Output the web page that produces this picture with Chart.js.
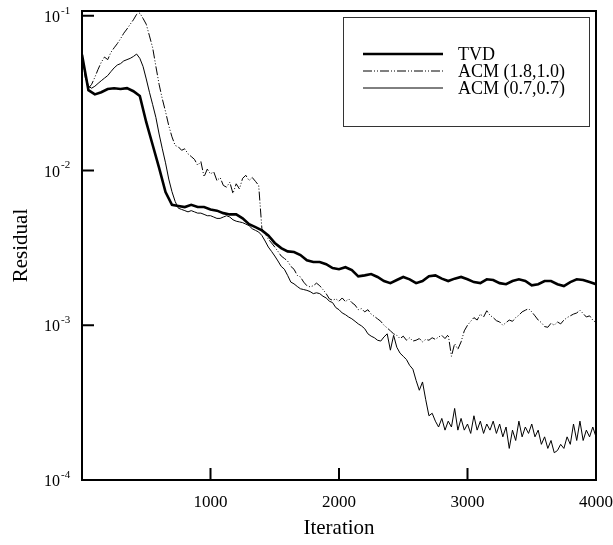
<!DOCTYPE html>
<html>
<head>
<meta charset="utf-8">
<script src="https://cdn.jsdelivr.net/npm/chart.js@4.4.0/dist/chart.umd.min.js"></script>
<style>
  html, body { margin: 0; padding: 0; background: #fff; }
  #wrap { width: 613px; height: 545px; }
</style>
</head>
<body>
<div id="wrap"><canvas id="chartResidu"></canvas></div>
<script>
// pas d'échantillonnage (itérations)
const pasTVD = 50;
const pasACM = 25;

const residuTVD = [
  0.056, 0.033, 0.031, 0.032, 0.0336, 0.034, 0.0336, 0.034, 0.0325, 0.0303,
  0.0205, 0.0146, 0.0104, 0.00725, 0.0060, 0.0059, 0.0058, 0.0060, 0.0058, 0.0058,
  0.0056, 0.0055, 0.0053, 0.0052, 0.0052, 0.0049, 0.0045, 0.0043, 0.0041, 0.0038,
  0.0034, 0.00315, 0.0030, 0.00297, 0.00284, 0.00263, 0.00256, 0.00256, 0.00248, 0.00234,
  0.0023, 0.00237, 0.00227, 0.00207, 0.0021, 0.00214, 0.00205, 0.00193, 0.00187, 0.00196,
  0.00205, 0.00198, 0.00187, 0.00193, 0.00207, 0.0021, 0.002, 0.00193, 0.002, 0.00205,
  0.00198, 0.0019, 0.00187, 0.00198, 0.00196, 0.00187, 0.00184, 0.00193, 0.00198, 0.00193,
  0.00181, 0.00184, 0.00193, 0.00193, 0.00184, 0.00179, 0.0019, 0.00198, 0.00196, 0.0019,
  0.00184
];

const residuACM18 = [
  0.056, 0.040, 0.034, 0.036, 0.040, 0.045, 0.050, 0.054, 0.052, 0.058,
  0.062, 0.066, 0.071, 0.077, 0.082, 0.088, 0.094, 0.102, 0.104, 0.096,
  0.088, 0.074, 0.062, 0.047, 0.036, 0.029, 0.024, 0.0195, 0.0165, 0.0145,
  0.0142, 0.0135, 0.0138, 0.0128, 0.0123, 0.0118, 0.0108, 0.0114, 0.0091, 0.0102,
  0.0095, 0.0098, 0.0086, 0.0090, 0.0080, 0.0078, 0.0084, 0.0071, 0.0082, 0.0076,
  0.0089, 0.0093, 0.0086, 0.0090, 0.0085, 0.0080, 0.0042, 0.0039, 0.0036, 0.0034,
  0.0032, 0.0030, 0.0028, 0.0027, 0.0026, 0.0024, 0.0023, 0.0021, 0.00205, 0.0019,
  0.0018, 0.00177, 0.0018, 0.00187, 0.0018, 0.0017, 0.0016, 0.00148, 0.00145, 0.00148,
  0.00143, 0.0015, 0.00142, 0.00148, 0.0014, 0.00135, 0.00126, 0.00128, 0.00122, 0.00126,
  0.00118, 0.00114, 0.0011, 0.00106, 0.001, 0.00096, 0.00092, 0.00088, 0.00086, 0.00082,
  0.00085, 0.0008, 0.00083, 0.00079, 0.0008, 0.00082, 0.00078, 0.00081, 0.0008, 0.00083,
  0.00081, 0.00084, 0.00086, 0.00082, 0.00087, 0.00063, 0.00076, 0.0007, 0.00078, 0.00092,
  0.001, 0.00106, 0.00112, 0.00108, 0.00118, 0.00113, 0.00124, 0.00116, 0.00112, 0.00107,
  0.00105, 0.001, 0.00104, 0.00108, 0.00106, 0.00112, 0.00116, 0.00122, 0.00125, 0.00128,
  0.00122, 0.00115, 0.00108, 0.00104, 0.00098, 0.00097, 0.00103, 0.001, 0.00105, 0.00102,
  0.00108, 0.00112, 0.00115, 0.00118, 0.0012, 0.00125, 0.00119, 0.00113, 0.00115, 0.00108,
  0.00104
];

const residuACM07 = [
  0.056, 0.042, 0.035, 0.034, 0.035, 0.0365, 0.038, 0.0395, 0.041, 0.0435,
  0.046, 0.048, 0.049, 0.051, 0.052, 0.053, 0.0545, 0.0565, 0.053, 0.047,
  0.039, 0.032, 0.0266, 0.022, 0.0172, 0.0138, 0.0112, 0.0088, 0.0073, 0.0063,
  0.0057, 0.0056, 0.0055, 0.0054, 0.0055, 0.0054, 0.0053, 0.0053, 0.0052, 0.0051,
  0.0051, 0.005, 0.0049, 0.0049, 0.005, 0.0051, 0.005, 0.0048, 0.0047, 0.00465,
  0.0046, 0.0045, 0.0044, 0.0042, 0.0041, 0.004, 0.0038, 0.0035, 0.0032, 0.003,
  0.0028, 0.0026, 0.0024, 0.0023, 0.0021, 0.0019, 0.00185, 0.00178, 0.00172, 0.0017,
  0.00168, 0.00165, 0.0016, 0.00162, 0.0016, 0.00154, 0.0015, 0.00143, 0.0014, 0.0013,
  0.00126, 0.0012, 0.00117, 0.00113, 0.0011, 0.00106, 0.00102, 0.00099, 0.00095, 0.00088,
  0.00085, 0.00083, 0.0008, 0.00079, 0.00084, 0.00088, 0.00069, 0.00086, 0.00072, 0.00066,
  0.00063, 0.0006, 0.00055, 0.00052, 0.00044, 0.00038, 0.00043, 0.00033, 0.00026, 0.00027,
  0.00024, 0.00022, 0.00025, 0.00021, 0.00024, 0.00022, 0.00029, 0.00021, 0.00025, 0.00021,
  0.00023, 0.0002, 0.00026, 0.00021, 0.00024, 0.0002, 0.00023, 0.00021, 0.00024, 0.0002,
  0.00023, 0.00019, 0.00022, 0.00016, 0.00021, 0.00018, 0.00024, 0.00019, 0.00022, 0.0002,
  0.00023, 0.00019, 0.00021, 0.00017, 0.00019, 0.00016, 0.00018, 0.00015, 0.000155, 0.00017,
  0.00016, 0.00019, 0.00017, 0.00023, 0.00018, 0.00024, 0.00018, 0.00021, 0.00019, 0.00022,
  0.00019
];

const nomsSeries = ['TVD', 'ACM (1.8,1.0)', 'ACM (0.7,0.7)'];
const ticksX = [1000, 2000, 3000, 4000];
const ticksY = [1e-4, 1e-3, 1e-2, 1e-1];
const exposantsY = ['-4', '-3', '-2', '-1'];

const police = '"Liberation Serif", "Times New Roman", serif';

const versPoints = (valeurs, pas) => valeurs.map((v, i) => ({ x: i * pas, y: v }));

// cadre, graduations intérieures, étiquettes 10^n et légende encadrée
const cadre = {
  id: 'cadre',
  afterDraw(chart) {
    const { ctx, chartArea: a, scales: { x, y } } = chart;
    ctx.save();
    ctx.strokeStyle = '#000';
    ctx.lineWidth = 2;
    ctx.strokeRect(a.left, a.top, a.right - a.left, a.bottom - a.top);

    ctx.beginPath();
    ticksX.forEach(v => {
      const px = x.getPixelForValue(v);
      ctx.moveTo(px, a.bottom); ctx.lineTo(px, a.bottom - 12);
    });
    ticksY.forEach(v => {
      const py = y.getPixelForValue(v);
      ctx.moveTo(a.left, py); ctx.lineTo(a.left + 12, py);
    });
    ctx.stroke();

    ctx.fillStyle = '#000';
    ctx.textBaseline = 'middle';
    ctx.textAlign = 'left';
    ticksY.forEach((v, i) => {
      const py = y.getPixelForValue(v);
      ctx.font = '16px ' + police;
      ctx.fillText('10', a.left - 38, py + 2);
      const w = ctx.measureText('10').width;
      ctx.font = '11px ' + police;
      ctx.fillText(exposantsY[i], a.left - 38 + w + 1, py - 5);
    });

    // légende
    ctx.lineWidth = 1;
    ctx.strokeStyle = '#333';
    ctx.strokeRect(343.5, 17.5, 246, 109);
    chart.data.datasets.forEach((ds, i) => {
      const ly = 54 + i * 17;
      ctx.beginPath();
      ctx.lineWidth = ds.borderWidth;
      ctx.strokeStyle = '#000';
      ctx.setLineDash(ds.borderDash || []);
      ctx.moveTo(363, ly); ctx.lineTo(443, ly);
      ctx.stroke();
      ctx.setLineDash([]);
      ctx.font = '18px ' + police;
      ctx.fillText(ds.label, 458, ly + 1);
    });
    ctx.restore();
  }
};

new Chart(document.getElementById('chartResidu'), {
  type: 'line',
  data: {
    datasets: [
      { label: nomsSeries[0], data: versPoints(residuTVD, pasTVD), borderColor: '#000', borderWidth: 2.6 },
      { label: nomsSeries[1], data: versPoints(residuACM18, pasACM), borderColor: '#000', borderWidth: 1, borderDash: [9, 2, 1, 2, 1, 2] },
      { label: nomsSeries[2], data: versPoints(residuACM07, pasACM), borderColor: '#000', borderWidth: 1 }
    ]
  },
  options: {
    responsive: true,
    maintainAspectRatio: false,
    animation: false,
    devicePixelRatio: 1,
    elements: { point: { radius: 0 }, line: { tension: 0 } },
    layout: { padding: { top: 11, right: 17, left: 0, bottom: 0 } },
    plugins: { legend: { display: false }, tooltip: { enabled: false } },
    scales: {
      x: {
        type: 'linear',
        min: 0,
        max: 4000,
        grid: { display: false },
        border: { display: false },
        afterBuildTicks: s => { s.ticks = ticksX.map(v => ({ value: v })); },
        afterFit: s => { s.height = 65; s.paddingLeft = 0; s.paddingRight = 0; },
        ticks: { color: '#000', font: { family: police, size: 17 }, padding: 4, maxRotation: 0, callback: v => String(v) },
        title: { display: true, text: 'Iteration', color: '#000', font: { family: police, size: 21 }, padding: { top: 0, bottom: 4 } }
      },
      y: {
        type: 'logarithmic',
        min: 1e-4,
        max: 0.1072,
        grid: { display: false },
        border: { display: false },
        afterBuildTicks: s => { s.ticks = ticksY.map(v => ({ value: v })); },
        afterFit: s => { s.width = 82; },
        ticks: { display: false },
        title: { display: true, text: 'Residual', color: '#000', font: { family: police, size: 21 }, padding: { top: 9, bottom: 0 } }
      }
    }
  },
  plugins: [cadre]
});
</script>
</body>
</html>
